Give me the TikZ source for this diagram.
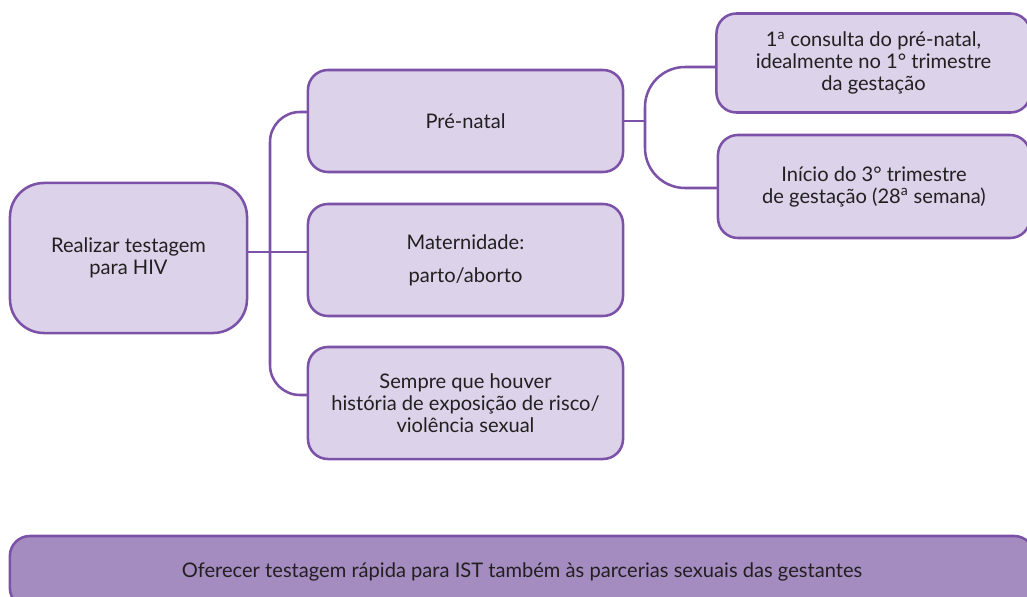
\documentclass[tikz,border=0pt]{standalone}
\usepackage{fontspec}
\setmainfont{Lato}
\definecolor{lila}{HTML}{DCD2E9}
\definecolor{lilaEsc}{HTML}{A48BC0}
\definecolor{borda}{HTML}{7B52A8}
\definecolor{texto}{HTML}{231F20}
\begin{document}
\begin{tikzpicture}[x=0.025cm, y=-0.025cm, line join=round, line cap=round,
		font=\fontsize{14.3pt}{15.6pt}\selectfont, text=texto,
		caixa/.style={draw=borda, fill=lila, line width=1.8pt, rounded corners=0.5cm, align=center, inner sep=0pt},
		liga/.style={draw=borda, line width=1.8pt}]
	\useasboundingbox (0,0) rectangle (1027,597);
	% caixas
	\node[caixa, rounded corners=0.85cm, minimum width=5.925cm, minimum height=3.75cm] (teste) at (128.5,258) {Realizar testagem\\para HIV};
	\node[caixa, minimum width=7.875cm, minimum height=2.55cm] (pre) at (465.5,121) {Pré-natal};
	\node[caixa, minimum width=7.875cm, minimum height=2.8cm] (mat) at (465.5,260) {Maternidade:\\[8pt]parto/aborto};
	\node[caixa, minimum width=7.875cm, minimum height=2.8cm] (sempre) at (465.5,403) {Sempre que houver\\história de exposição de risco/\\violência sexual};
	\node[caixa, minimum width=7.85cm, minimum height=2.475cm] (consulta) at (873.5,63) {1\textsuperscript{a} consulta do pré-natal,\\idealmente no 1° trimestre\\da gestação};
	\node[caixa, minimum width=7.8cm, minimum height=2.575cm] (inicio) at (874,186.5) {Início do 3° trimestre\\de gestação (28\textsuperscript{a} semana)};
	\node[caixa, fill=lilaEsc, minimum width=25.6cm, minimum height=1.8cm] (oferta) at (522,572) {Oferecer testagem rápida para IST também às parcerias sexuais das gestantes};
	% ligacoes
	\coordinate (tronco) at (270,252);
	\coordinate (galho) at (645,121);
	\draw[liga] (teste.east |- tronco) -- (mat.west |- tronco);
	\draw[liga, rounded corners=0.75cm] (pre.west |- 0,112) -- (tronco |- 0,112) -- (tronco |- 0,395) -- (sempre.west |- 0,395);
	\draw[liga] (pre.east) -- (galho);
	\draw[liga, rounded corners=1cm] (consulta.west |- 0,67) -- (galho |- 0,67) -- (galho |- 0,188) -- (inicio.west |- 0,188);
\end{tikzpicture}
\end{document}
